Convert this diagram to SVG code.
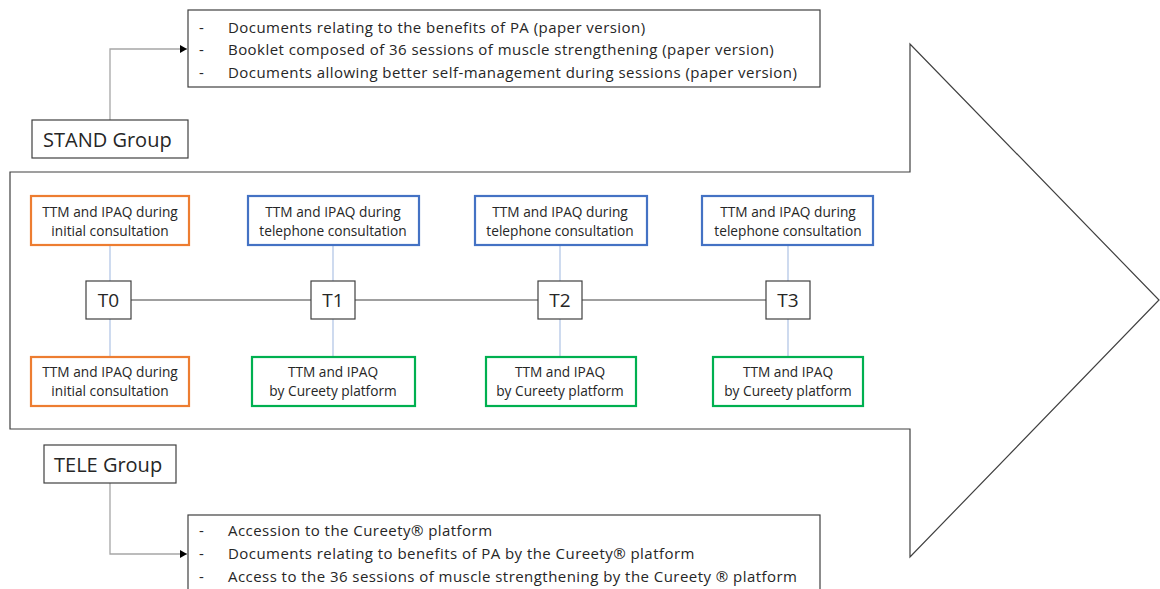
<svg xmlns="http://www.w3.org/2000/svg" width="1160" height="589" viewBox="0 0 1160 589">
<style>
  text { font-family: "Open Sans", "Liberation Sans", sans-serif; fill: #262626; }
  .big { font-size: 20px; }
  .list { font-size: 15px; letter-spacing: 0.45px; }
  .lbl { font-size: 13.7px; text-anchor: middle; }
  .t { font-size: 19px; text-anchor: middle; }
  .plain { fill: #ffffff; stroke: #404040; stroke-width: 1.2; }
  .orange { fill: #ffffff; stroke: #ED7D31; stroke-width: 2.2; }
  .blue { fill: #ffffff; stroke: #4472C4; stroke-width: 2.2; }
  .green { fill: #ffffff; stroke: #00B050; stroke-width: 2.2; }
  .grey { fill: none; stroke: #a6a6a6; stroke-width: 1.3; }
  .lb { fill: none; stroke: #b4c7e7; stroke-width: 1.3; }
  .tl { fill: none; stroke: #404040; stroke-width: 1; }
</style>
<defs>
  <marker id="ah" markerWidth="8" markerHeight="8" refX="7" refY="4" orient="auto" markerUnits="userSpaceOnUse">
    <path d="M0,0 L7,4 L0,8 z" fill="#000"/>
  </marker>
</defs>
<rect x="0" y="0" width="1160" height="589" fill="#ffffff"/>

<g id="big-arrow">
  <polygon points="10,172 910,172 910,44 1159,300 910,557 910,429 10,429" fill="#ffffff" stroke="#404040" stroke-width="1.2"/>
</g>

<g id="connectors">
  <polyline class="grey" points="110,120 110,49 187,49" marker-end="url(#ah)"/>
  <polyline class="grey" points="110,483 110,554 187,554" marker-end="url(#ah)"/>
  <line class="tl" x1="131" y1="300" x2="311" y2="300"/>
  <line class="tl" x1="355" y1="300" x2="538" y2="300"/>
  <line class="tl" x1="582" y1="300" x2="766" y2="300"/>
  <line class="lb" x1="110" y1="245" x2="110" y2="281"/>
  <line class="lb" x1="110" y1="319" x2="110" y2="357"/>
  <line class="lb" x1="333" y1="245" x2="333" y2="281"/>
  <line class="lb" x1="333" y1="319" x2="333" y2="357"/>
  <line class="lb" x1="560" y1="245" x2="560" y2="281"/>
  <line class="lb" x1="560" y1="319" x2="560" y2="357"/>
  <line class="lb" x1="788" y1="245" x2="788" y2="281"/>
  <line class="lb" x1="788" y1="319" x2="788" y2="357"/>
</g>

<g id="stand-list">
  <rect class="plain" x="188" y="10" width="632" height="77"/>
  <text class="list" x="199" y="33">-</text>
  <text class="list" x="228" y="33">Documents relating to the benefits of PA (paper version)</text>
  <text class="list" x="199" y="55">-</text>
  <text class="list" x="228" y="55">Booklet composed of 36 sessions of muscle strengthening (paper version)</text>
  <text class="list" x="199" y="78">-</text>
  <text class="list" x="228" y="78">Documents allowing better self-management during sessions (paper version)</text>
</g>

<g id="stand-group">
  <rect class="plain" x="32" y="120" width="156" height="38"/>
  <text class="big" x="43" y="147">STAND Group</text>
</g>

<g id="tele-group">
  <rect class="plain" x="44" y="445" width="132" height="38"/>
  <text class="big" x="54" y="472">TELE Group</text>
</g>

<g id="tele-list">
  <rect class="plain" x="188" y="515" width="632" height="80"/>
  <text class="list" x="199" y="536">-</text>
  <text class="list" x="228" y="536">Accession to the Cureety® platform</text>
  <text class="list" x="199" y="559">-</text>
  <text class="list" x="228" y="559">Documents relating to benefits of PA by the Cureety® platform</text>
  <text class="list" x="199" y="582">-</text>
  <text class="list" x="228" y="582">Access to the 36 sessions of muscle strengthening by the Cureety ® platform</text>
</g>

<g id="t0-top">
  <rect class="orange" x="31" y="196" width="158" height="49"/>
  <text class="lbl" x="110" y="217">TTM and IPAQ during</text>
  <text class="lbl" x="110" y="236">initial consultation</text>
</g>
<g id="t0-bottom">
  <rect class="orange" x="31" y="357" width="158" height="49"/>
  <text class="lbl" x="110" y="377">TTM and IPAQ during</text>
  <text class="lbl" x="110" y="396">initial consultation</text>
</g>
<g id="t1-top">
  <rect class="blue" x="248" y="196" width="171" height="49"/>
  <text class="lbl" x="333" y="217">TTM and IPAQ during</text>
  <text class="lbl" x="333" y="236">telephone consultation</text>
</g>
<g id="t1-bottom">
  <rect class="green" x="252" y="357" width="163" height="49"/>
  <text class="lbl" x="333" y="377">TTM and IPAQ</text>
  <text class="lbl" x="333" y="396">by Cureety platform</text>
</g>
<g id="t2-top">
  <rect class="blue" x="475" y="196" width="172" height="49"/>
  <text class="lbl" x="560" y="217">TTM and IPAQ during</text>
  <text class="lbl" x="560" y="236">telephone consultation</text>
</g>
<g id="t2-bottom">
  <rect class="green" x="486" y="357" width="150" height="49"/>
  <text class="lbl" x="560" y="377">TTM and IPAQ</text>
  <text class="lbl" x="560" y="396">by Cureety platform</text>
</g>
<g id="t3-top">
  <rect class="blue" x="702" y="196" width="171" height="49"/>
  <text class="lbl" x="788" y="217">TTM and IPAQ during</text>
  <text class="lbl" x="788" y="236">telephone consultation</text>
</g>
<g id="t3-bottom">
  <rect class="green" x="713" y="357" width="150" height="49"/>
  <text class="lbl" x="788" y="377">TTM and IPAQ</text>
  <text class="lbl" x="788" y="396">by Cureety platform</text>
</g>

<g id="T0">
  <rect class="plain" x="86" y="281" width="45" height="38"/>
  <text class="t" x="108.5" y="307">T0</text>
</g>
<g id="T1">
  <rect class="plain" x="311" y="281" width="44" height="38"/>
  <text class="t" x="333" y="307">T1</text>
</g>
<g id="T2">
  <rect class="plain" x="538" y="281" width="44" height="38"/>
  <text class="t" x="560" y="307">T2</text>
</g>
<g id="T3">
  <rect class="plain" x="766" y="281" width="44" height="38"/>
  <text class="t" x="788" y="307">T3</text>
</g>
</svg>
